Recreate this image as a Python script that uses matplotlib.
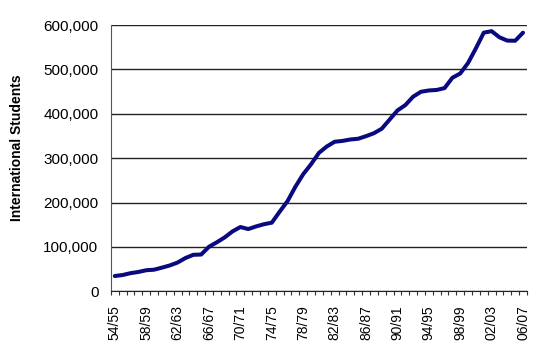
import matplotlib.pyplot as plt
from matplotlib.ticker import FuncFormatter, MultipleLocator

plt.rcParams['font.family'] = ['Liberation Sans', 'DejaVu Sans']

# academic years 1954/55 .. 2006/07
years = ['%02d/%02d' % (y % 100, (y + 1) % 100) for y in range(1954, 2007)]
students = [34232, 36494, 40666, 43391, 47245, 48486, 53107, 58086, 64705, 74814,
            82045, 82709, 100262, 110315, 121362, 134959, 144708, 140126, 146097, 151066,
            154580, 179344, 203068, 235509, 263938, 286343, 311882, 326299, 336985, 338894,
            342113, 343777, 349609, 356187, 366354, 386851, 407529, 419585, 438618, 449749,
            452635, 453787, 457984, 481280, 490933, 514723, 547867, 582996, 586323, 572509,
            565039, 564766, 582984]

fig = plt.figure(figsize=(5.6, 3.64), dpi=100)
ax = fig.add_axes([0.198, 0.2, 0.743, 0.731])

x = list(range(len(years)))
ax.plot(x, students, color='#0a0a80', lw=2.9, solid_capstyle='round',
        solid_joinstyle='round', zorder=3)

ax.set_ylim(0, 600000)
ax.set_xlim(-0.5, len(years) - 0.5)
ax.yaxis.set_major_locator(MultipleLocator(100000))
ax.yaxis.set_major_formatter(FuncFormatter(lambda v, p: '{:,.0f}'.format(v)))
ax.grid(axis='y', color='#222222', lw=1)
ax.set_axisbelow(True)

ax.set_xticks(x[::4])
ax.set_xticklabels(years[::4], rotation=90)
ax.set_xticks([i - 0.5 for i in range(len(years) + 1)], minor=True)
ax.tick_params(axis='x', which='major', length=0, pad=10, labelsize=10)
ax.tick_params(axis='x', which='minor', length=3, width=0.8, color='#333333')
ax.tick_params(axis='y', length=0, pad=9, labelsize=11)

for s in ['top', 'right']:
    ax.spines[s].set_visible(False)
ax.spines['left'].set_color('#555555')
ax.spines['bottom'].set_color('#222222')

ax.set_ylabel('International Students', fontsize=10, fontweight='bold')
ax.yaxis.set_label_coords(-0.21, 0.54)

fig.savefig('out.png', dpi=100)
